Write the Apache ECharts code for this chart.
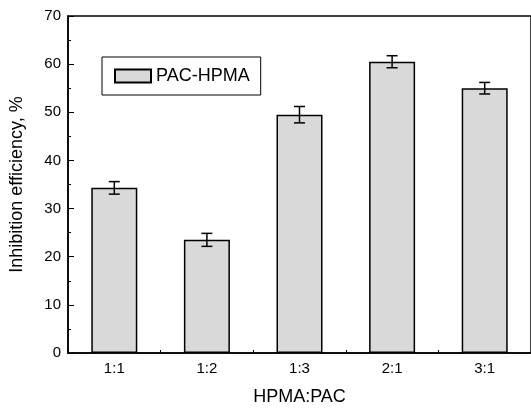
<!DOCTYPE html>
<html><head><meta charset="utf-8">
<script src="https://cdn.jsdelivr.net/npm/echarts@6/dist/echarts.min.js"></script>
<style>html,body{margin:0;padding:0;background:#fff}#c{width:531px;height:411px}</style>
</head><body><div id="c"></div>
<script>
const categories = ['1:1', '1:2', '1:3', '2:1', '3:1'];
const values = [34.3, 23.5, 49.5, 60.5, 55.0];
const errors = [1.3, 1.35, 1.7, 1.25, 1.2];
const seriesName = 'PAC-HPMA';
const yTicks = [0, 10, 20, 30, 40, 50, 60, 70];

const font = "'Liberation Sans', Arial, sans-serif";
const chart = echarts.init(document.getElementById('c'));
chart.setOption({
  animation: false,
  backgroundColor: '#fff',
  grid: { left: 68, top: 16, right: -1, bottom: 50, show: true, borderColor: '#000', borderWidth: 1.5, backgroundColor: 'transparent' },
  legend: {
    left: 102, top: 57, orient: 'horizontal',
    borderColor: '#000', borderWidth: 1, padding: [10, 11, 10, 12],
    itemWidth: 36, itemHeight: 13, itemGap: 5,
    textStyle: { fontFamily: font, fontSize: 18, color: '#000' },
    data: [{ name: seriesName, icon: 'rect' }]
  },
  xAxis: [{
    type: 'category', data: categories, boundaryGap: true,
    name: 'HPMA:PAC', nameLocation: 'middle', nameGap: 35,
    nameTextStyle: { fontFamily: font, fontSize: 18, color: '#000' },
    axisLine: { lineStyle: { color: '#000', width: 1.5 } },
    axisTick: { show: true, alignWithLabel: true, inside: true, length: 7, lineStyle: { color: '#000', width: 1 } },
    axisLabel: { fontFamily: font, fontSize: 15, color: '#000', margin: 8 },
    splitLine: { show: false }
  }, {
    type: 'value', min: 0, max: categories.length, interval: 1, position: 'bottom',
    axisLine: { show: false },
    axisTick: { show: true, inside: true, length: 3, lineStyle: { color: '#000', width: 1 } },
    axisLabel: { show: false }, splitLine: { show: false }
  }],
  yAxis: {
    type: 'value', min: yTicks[0], max: yTicks[yTicks.length - 1], interval: 10,
    name: 'Inhibition efficiency, %', nameLocation: 'middle', nameGap: 42,
    nameTextStyle: { fontFamily: font, fontSize: 18, color: '#000' },
    axisLine: { show: true, lineStyle: { color: '#000', width: 1.5 } },
    axisTick: { show: true, inside: true, length: 6, lineStyle: { color: '#000', width: 1 } },
    minorTick: { show: true, splitNumber: 2, length: 3, lineStyle: { color: '#000', width: 1 } },
    axisLabel: { fontFamily: font, fontSize: 15, color: '#000', margin: 7 },
    splitLine: { show: false }
  },
  series: [{
    name: seriesName, type: 'bar', data: values, barWidth: 46, xAxisIndex: 0,
    itemStyle: { color: '#d9d9d9', borderColor: '#000', borderWidth: 1.5 }
  }, {
    name: 'err', type: 'custom', xAxisIndex: 0, z: 5,
    data: values.map((v, i) => [i, v - errors[i], v + errors[i]]),
    renderItem: function (params, api) {
      const x = api.value(0);
      const lo = api.coord([x, api.value(1)]);
      const hi = api.coord([x, api.value(2)]);
      const hw = 5.5;
      const st = { stroke: '#000', lineWidth: 1.5 };
      return { type: 'group', children: [
        { type: 'line', shape: { x1: lo[0], y1: lo[1], x2: hi[0], y2: hi[1] }, style: st },
        { type: 'line', shape: { x1: hi[0] - hw, y1: hi[1], x2: hi[0] + hw, y2: hi[1] }, style: st },
        { type: 'line', shape: { x1: lo[0] - hw, y1: lo[1], x2: lo[0] + hw, y2: lo[1] }, style: st }
      ] };
    }
  }]
});
</script></body></html>
